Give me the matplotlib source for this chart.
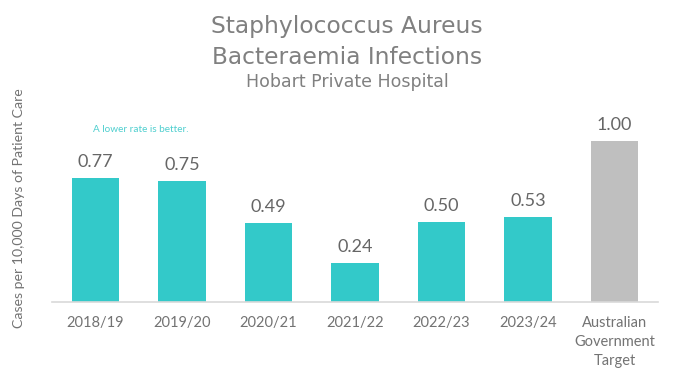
import matplotlib
matplotlib.use("Agg")
import matplotlib.pyplot as plt

categories = ["2018/19", "2019/20", "2020/21", "2021/22", "2022/23", "2023/24",
              "Australian\nGovernment\nTarget"]
values = [0.77, 0.75, 0.49, 0.24, 0.50, 0.53, 1.00]
colors = ["#33C9C9"] * 6 + ["#BFBFBF"]

plt.rcParams['font.family'] = ['Lato', 'DejaVu Sans']

fig = plt.figure(figsize=(6.94, 3.78), dpi=100)
ax = fig.add_axes([0.075, 0.201, 0.873, 0.532])

x = range(len(categories))
ax.bar(x, values, width=0.55, color=colors)
for xi, v in zip(x, values):
    ax.text(xi, v + 0.05, f"{v:.2f}", ha="center", va="bottom",
            fontsize=13, color="#666666")

ax.set_xlim(-0.5, len(categories) - 0.5)
ax.set_ylim(0, 1.25)
ax.set_xticks(list(x))
ax.set_xticklabels(categories, fontsize=10.5, color="#737373", linespacing=1.45)
ax.tick_params(axis="x", length=0, pad=10)
ax.set_yticks([])
for s in ["top", "right", "left"]:
    ax.spines[s].set_visible(False)
ax.spines["bottom"].set_color("#D9D9D9")
ax.spines["bottom"].set_linewidth(1.2)

ax.text(0.53, 1.075, "A lower rate is better.", ha="center", va="center",
        fontsize=7.2, color="#4FCFCF")

fig.text(0.027, 0.45, "Cases per 10,000 Days of Patient Care", rotation=90,
         ha="center", va="center", fontsize=10.2, color="#737373")

fig.text(0.5, 0.93, "Staphylococcus Aureus", ha="center", va="center",
         fontsize=16.8, color="#808080", family=['DejaVu Sans'])
fig.text(0.5, 0.848, "Bacteraemia Infections", ha="center", va="center",
         fontsize=16.8, color="#808080", family=['DejaVu Sans'])
fig.text(0.5, 0.782, "Hobart Private Hospital", ha="center", va="center",
         fontsize=12.5, color="#808080", family=['DejaVu Sans'])

fig.savefig("out.png", dpi=100)
